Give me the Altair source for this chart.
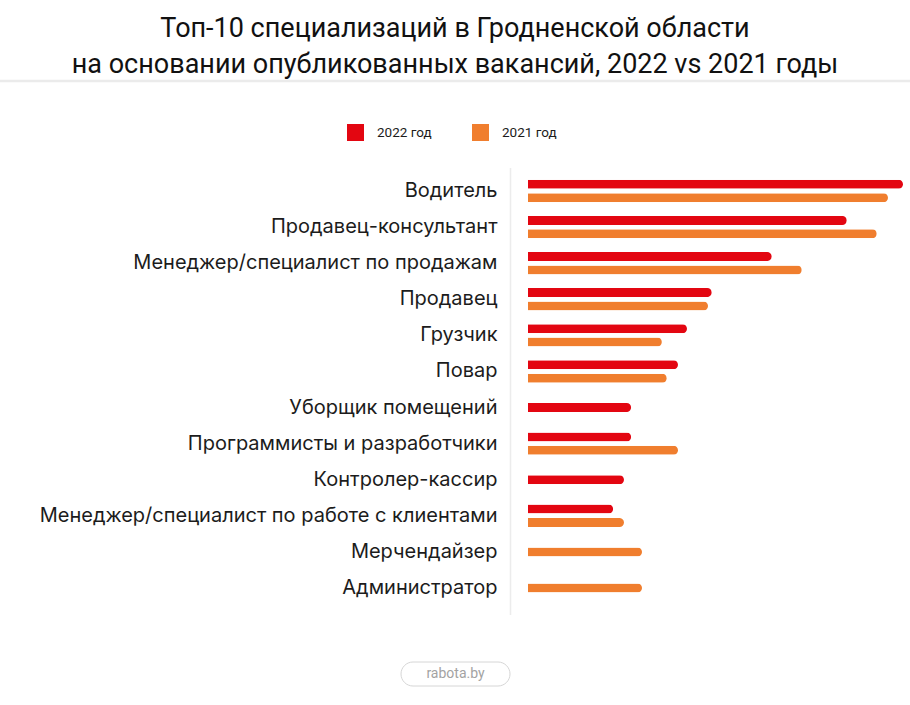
import altair as alt
import pandas as pd

# Specializations, top to bottom
roles = [
    "Водитель",
    "Продавец-консультант",
    "Менеджер/специалист по продажам",
    "Продавец",
    "Грузчик",
    "Повар",
    "Уборщик помещений",
    "Программисты и разработчики",
    "Контролер-кассир",
    "Менеджер/специалист по работе с клиентами",
    "Мерчендайзер",
    "Администратор",
]

# Relative number of vacancies (Водитель 2022 = 100); None = not in that year's top-10
vac_2022 = [100, 85, 65, 49, 42.4, 40, 27.5, 27.5, 25.6, 22.7, None, None]
vac_2021 = [96, 93, 73, 48, 35.7, 37, None, 40, None, 25.6, 30.4, 30.4]

series = ["2022 год", "2021 год"]
colors = ["#E30611", "#F07E2E"]

rows = []
for role, a, b in zip(roles, vac_2022, vac_2021):
    both = a is not None and b is not None
    if a is not None:
        rows.append({"role": role, "year": series[0], "value": a, "slot": "top" if both else "mid"})
    if b is not None:
        rows.append({"role": role, "year": series[1], "value": b, "slot": "bot" if both else "mid"})
df = pd.DataFrame(rows)

W, H = 375, 433
PAD_L, PAD_T = 528, 173

bars = alt.Chart(df).mark_bar(size=9, cornerRadiusEnd=4.5).encode(
    x=alt.X("value:Q", scale=alt.Scale(domain=[0, 100], nice=False), axis=None),
    y=alt.Y(
        "role:N",
        sort=roles,
        scale=alt.Scale(paddingInner=0.443, paddingOuter=0.2215),
        axis=alt.Axis(
            title=None, domain=False, ticks=False, tickSize=0, grid=False,
            labelPadding=31, labelLimit=0, labelFontSize=20,
            labelColor="#1c1c1c", labelFont="Inter",
        ),
    ),
    yOffset=alt.YOffset("slot:N", scale=alt.Scale(domain=["top", "mid", "bot"])),
    color=alt.Color(
        "year:N",
        scale=alt.Scale(domain=series, range=colors),
        legend=alt.Legend(
            title=None, orient="none", legendX=-181, legendY=-49,
            direction="horizontal", symbolType="square", symbolSize=289,
            symbolStrokeWidth=0, labelFontSize=13.5, labelOffset=13,
            labelColor="#1c1c1c", labelFont="Roboto", columnPadding=40, padding=0,
        ),
    ),
)

one = alt.Data(values=[{}])

# light divider under the title
divider = alt.Chart(one).mark_rule(color="#ebebeb", strokeWidth=2.5).encode(
    x=alt.value(-PAD_L), x2=alt.value(W + 7), y=alt.value(-92)
)

# vertical separator between labels and bars
sep = alt.Chart(one).mark_rule(color="#ececec", strokeWidth=1.5).encode(
    x=alt.value(-17.5), y=alt.value(-5), y2=alt.value(442)
)

# source badge
badge = alt.Chart(one).mark_rect(
    cornerRadius=12, fill="white", stroke="#d6d6d6", strokeWidth=1
).encode(
    x=alt.value(-127), x2=alt.value(-18), y=alt.value(489), y2=alt.value(513)
)
badge_text = alt.Chart(one).mark_text(
    text="rabota.by", fontSize=14, color="#a3a3a3", font="Roboto"
).encode(x=alt.value(-72.5), y=alt.value(501))

chart = alt.layer(divider, sep, badge, badge_text, bars).properties(
    width=W,
    height=H,
    autosize=alt.AutoSizeParams(type="none"),
    padding={"left": PAD_L, "top": PAD_T, "right": 910 - PAD_L - W, "bottom": 705 - PAD_T - H},
    title=alt.TitleParams(
        text=[
            "Топ-10 специализаций в Гродненской области",
            "на основании опубликованных вакансий, 2022 vs 2021 годы",
        ],
        anchor="middle", frame="group", dx=-260.5, dy=3,
        fontSize=27, fontWeight=400, font="Roboto", color="#111111",
        lineHeight=36,
    ),
).configure(font="Roboto").configure_view(stroke="transparent", strokeWidth=0)

chart.save("out.html", embed_options={"renderer": "svg", "actions": False})
